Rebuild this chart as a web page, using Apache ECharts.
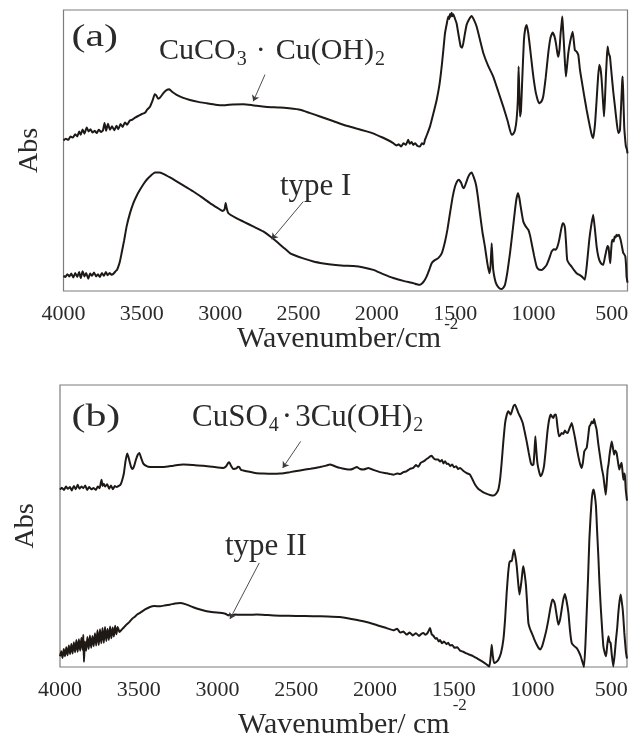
<!DOCTYPE html>
<html>
<head>
<meta charset="utf-8">
<script src="https://cdn.jsdelivr.net/npm/echarts@6/dist/echarts.min.js"></script>
<style>
  html, body { margin: 0; padding: 0; background: #fff; }
  #chart { width: 641px; height: 740px; }
</style>
</head>
<body>
<div id="chart"></div>
<script>
// wavenumber tick labels (cm-1), axis runs 4000 -> 400
const tickValues = [4000, 3500, 3000, 2500, 2000, 1500, 1000, 500];

// panel (a): [wavenumber, abs]
const cuco3 = [[4000,53.6],[3985,54.2],[3970,53.8],[3955,55.0],[3940,54.6],[3925,55.8],[3912,55.0],[3900,56.8],[3890,55.6],[3878,57.5],[3866,56.0],[3852,58.2],[3840,56.8],[3828,57.6],[3815,56.4],[3800,57.0],[3788,56.2],[3775,57.4],[3760,56.6],[3748,57.2],[3738,59.8],[3728,57.0],[3716,59.5],[3704,57.4],[3690,58.6],[3676,57.2],[3662,58.8],[3650,57.6],[3636,59.4],[3622,58.4],[3608,60.0],[3594,59.2],[3578,60.6],[3560,61.0],[3540,61.8],[3520,62.4],[3500,63.0],[3480,63.4],[3465,64.6],[3448,65.6],[3430,68.0],[3418,70.0],[3408,69.6],[3396,68.4],[3384,68.8],[3360,70.6],[3340,71.6],[3325,71.8],[3305,70.8],[3278,69.8],[3240,68.8],[3193,68.0],[3140,67.3],[3086,66.8],[3030,66.3],[2980,66.1],[2920,66.4],[2852,66.5],[2800,66.2],[2767,65.9],[2700,65.5],[2618,65.3],[2560,65.0],[2490,64.5],[2430,63.4],[2363,62.1],[2280,60.5],[2193,58.8],[2130,57.8],[2065,56.8],[2020,56.0],[1980,55.0],[1940,54.0],[1895,52.6],[1875,51.8],[1860,52.2],[1845,51.4],[1830,52.6],[1815,52.0],[1800,53.8],[1790,52.4],[1778,53.0],[1767,52.0],[1755,52.6],[1740,51.6],[1725,51.4],[1712,52.6],[1700,52.2],[1693,53.8],[1680,55.6],[1661,58.5],[1640,63.0],[1618,68.0],[1600,73.5],[1586,79.9],[1575,86.0],[1565,91.7],[1554,95.0],[1544,97.7],[1538,96.8],[1533,98.6],[1528,97.6],[1523,99.0],[1517,97.8],[1512,98.5],[1502,97.0],[1491,95.3],[1478,91.0],[1465,87.0],[1456,86.6],[1448,88.2],[1438,91.5],[1427,94.7],[1410,96.8],[1395,97.9],[1380,96.5],[1363,94.1],[1340,89.0],[1320,84.6],[1290,80.2],[1257,76.3],[1225,71.0],[1193,65.6],[1165,60.5],[1140,55.6],[1128,56.0],[1118,57.3],[1108,61.0],[1100,68.0],[1095,79.9],[1090,70.0],[1086,62.1],[1080,64.0],[1072,75.0],[1061,89.4],[1052,93.5],[1044,94.7],[1034,92.0],[1023,87.0],[1012,81.5],[1001,76.3],[985,70.5],[965,66.8],[950,67.4],[938,69.2],[922,76.0],[906,84.6],[892,90.0],[878,92.0],[866,90.6],[857,88.2],[848,84.8],[842,83.4],[834,86.0],[827,91.7],[820,95.5],[816,97.7],[811,93.0],[806,88.2],[799,81.0],[793,76.3],[786,80.0],[778,84.6],[765,89.0],[750,92.3],[742,88.6],[736,85.8],[725,85.2],[714,84.0],[704,79.0],[693,75.1],[678,70.0],[661,64.5],[640,58.5],[628,55.5],[619,54.4],[608,59.0],[597,68.0],[588,76.0],[580,80.5],[572,79.0],[565,75.1],[557,68.0],[550,62.1],[544,68.0],[538,76.3],[532,83.0],[527,87.0],[520,84.6],[512,83.4],[507,80.5],[502,77.5],[491,71.0],[480,65.6],[470,60.5],[459,56.2],[453,56.6],[448,57.3],[440,67.0],[434,74.5],[431,76.3],[427,70.0],[421,58.5],[415,54.0],[410,51.4],[404,50.4],[400,49.0]];

const typeI = [[4000,5.4],[3988,5.0],[3975,6.0],[3962,5.2],[3950,6.2],[3938,4.8],[3925,6.4],[3912,5.0],[3900,6.8],[3890,4.6],[3878,7.0],[3866,5.2],[3855,6.4],[3842,4.4],[3830,6.2],[3818,5.4],[3805,6.6],[3792,5.2],[3780,6.0],[3768,5.0],[3755,6.4],[3742,5.4],[3730,6.8],[3718,5.6],[3706,6.4],[3694,5.8],[3682,6.1],[3668,7.0],[3658,7.6],[3650,8.7],[3640,10.5],[3629,13.5],[3613,18.0],[3597,23.0],[3575,27.8],[3554,31.3],[3532,34.0],[3512,36.0],[3490,38.0],[3469,39.6],[3440,41.2],[3416,42.2],[3390,42.2],[3363,41.7],[3320,40.4],[3278,39.0],[3225,37.2],[3171,35.4],[3118,33.4],[3065,31.3],[3020,29.7],[2985,28.5],[2972,29.0],[2965,31.3],[2958,29.4],[2948,27.7],[2900,26.0],[2852,24.7],[2790,23.0],[2725,21.2],[2680,19.4],[2640,17.6],[2595,15.4],[2555,13.5],[2533,12.9],[2470,11.6],[2405,10.5],[2340,9.8],[2278,9.3],[2210,9.0],[2150,8.9],[2085,8.4],[2022,7.5],[1960,6.0],[1895,4.6],[1830,3.6],[1767,2.8],[1745,2.4],[1725,2.2],[1700,3.4],[1682,5.2],[1665,7.6],[1650,9.9],[1630,11.0],[1608,11.7],[1585,13.5],[1565,17.5],[1549,22.0],[1533,27.7],[1516,33.5],[1501,37.2],[1488,39.0],[1476,39.6],[1462,38.5],[1452,37.0],[1444,36.6],[1430,38.6],[1416,40.7],[1405,41.8],[1395,42.2],[1382,40.6],[1367,37.8],[1355,33.5],[1342,27.7],[1326,21.0],[1310,15.8],[1295,10.0],[1282,6.3],[1274,9.0],[1267,17.0],[1262,12.0],[1257,7.5],[1246,4.0],[1235,2.2],[1218,1.0],[1203,0.7],[1192,1.2],[1182,2.2],[1166,7.0],[1150,13.5],[1134,21.0],[1118,28.9],[1108,33.0],[1099,34.8],[1090,33.0],[1082,30.1],[1073,27.0],[1065,24.7],[1050,23.0],[1033,21.8],[1022,19.8],[1012,17.0],[996,12.5],[980,8.7],[965,7.6],[948,7.5],[932,8.2],[916,9.3],[900,11.5],[884,14.1],[870,14.9],[857,14.7],[846,16.0],[836,18.2],[825,21.5],[814,24.1],[806,23.8],[799,22.4],[792,17.0],[785,11.1],[771,9.6],[757,8.7],[741,7.4],[725,6.3],[709,5.8],[693,5.2],[682,4.6],[672,4.0],[660,9.0],[644,18.2],[631,23.5],[619,27.1],[608,22.0],[597,15.8],[586,12.2],[576,10.5],[565,9.6],[555,9.3],[545,11.8],[534,14.7],[527,16.0],[521,15.5],[515,12.0],[510,9.9],[505,14.0],[500,17.5],[495,18.2],[488,17.6],[482,19.4],[476,19.0],[470,20.0],[462,19.6],[455,20.0],[444,18.2],[436,16.0],[427,13.5],[420,13.0],[414,12.3],[409,9.0],[406,5.2],[400,3.0]];

// panel (b)
const cuso4 = [[4000,62.9],[3988,63.6],[3975,62.8],[3962,64.0],[3950,63.2],[3937,63.8],[3925,62.6],[3912,64.2],[3900,63.0],[3888,64.6],[3876,63.2],[3864,64.0],[3852,63.4],[3840,64.4],[3828,62.8],[3815,63.8],[3800,63.0],[3788,63.5],[3772,62.8],[3760,64.0],[3748,63.4],[3740,65.6],[3736,66.4],[3730,64.2],[3722,65.0],[3714,64.0],[3700,64.8],[3688,63.2],[3676,64.4],[3664,63.0],[3652,64.2],[3640,63.8],[3628,64.2],[3615,64.7],[3604,66.5],[3594,68.8],[3584,73.0],[3573,75.7],[3564,74.2],[3556,72.4],[3548,70.8],[3539,70.2],[3528,71.5],[3518,73.5],[3507,75.2],[3496,75.9],[3484,74.0],[3471,72.1],[3450,71.2],[3429,70.9],[3390,70.9],[3344,70.9],[3280,71.4],[3217,71.8],[3150,71.6],[3090,71.4],[3030,71.0],[2963,70.6],[2945,71.2],[2932,72.4],[2925,72.6],[2915,71.4],[2900,70.2],[2880,70.4],[2870,71.0],[2862,70.9],[2850,69.9],[2815,69.4],[2760,68.8],[2709,68.6],[2650,68.5],[2603,68.6],[2540,69.1],[2476,69.7],[2410,70.3],[2349,70.9],[2310,71.4],[2286,71.8],[2255,71.2],[2222,70.6],[2190,70.2],[2159,70.0],[2135,70.4],[2116,70.9],[2095,70.2],[2074,70.0],[2042,70.6],[2005,69.8],[1968,69.1],[1925,68.7],[1900,68.4],[1883,68.2],[1860,68.6],[1840,68.4],[1820,69.1],[1800,69.4],[1780,70.2],[1757,70.6],[1740,71.6],[1725,71.0],[1710,72.4],[1693,72.9],[1680,73.4],[1665,74.0],[1652,74.6],[1640,74.9],[1628,74.0],[1615,73.6],[1600,73.6],[1587,72.9],[1575,73.4],[1565,72.2],[1555,73.0],[1545,72.0],[1534,72.1],[1522,71.2],[1510,71.8],[1497,70.8],[1485,71.2],[1472,70.2],[1460,70.6],[1440,69.6],[1420,68.8],[1397,68.2],[1380,66.4],[1365,64.7],[1345,63.2],[1330,62.6],[1312,61.9],[1290,61.4],[1270,61.0],[1248,60.8],[1232,61.4],[1217,62.9],[1206,66.5],[1196,72.4],[1185,80.0],[1174,86.5],[1163,89.5],[1153,90.7],[1145,90.0],[1138,89.5],[1128,91.2],[1120,92.6],[1111,93.0],[1100,91.6],[1090,90.1],[1076,88.5],[1062,86.5],[1050,83.5],[1037,80.0],[1024,76.0],[1011,72.4],[1002,71.5],[994,71.8],[988,76.0],[982,81.8],[976,77.0],[969,72.4],[958,69.2],[948,67.6],[938,68.6],[927,71.2],[916,77.0],[906,83.0],[895,87.5],[884,89.5],[876,88.8],[868,88.3],[860,89.4],[851,89.5],[842,85.5],[832,81.8],[824,82.2],[815,83.0],[805,82.6],[794,83.9],[786,83.2],[777,83.0],[765,84.6],[751,86.5],[740,84.0],[730,81.2],[720,78.0],[709,74.7],[698,72.0],[688,70.6],[680,72.5],[671,76.5],[663,77.2],[656,77.7],[648,81.0],[639,85.3],[631,86.0],[624,87.1],[616,86.4],[609,87.9],[601,86.0],[593,84.2],[582,79.0],[571,74.7],[560,70.5],[550,67.6],[542,64.0],[535,61.1],[529,65.0],[523,70.0],[517,72.0],[512,74.7],[505,77.5],[497,80.0],[490,78.0],[482,75.3],[475,76.8],[466,75.9],[458,73.0],[449,70.0],[441,71.6],[434,72.4],[428,69.0],[423,66.4],[418,68.6],[413,67.6],[408,63.0],[402,59.9],[400,59.0]];

const typeII = [[4000,3.8],[3992,5.6],[3984,3.2],[3976,6.4],[3968,3.8],[3960,7.0],[3952,4.2],[3944,7.6],[3936,4.6],[3928,8.2],[3920,4.8],[3912,8.8],[3904,5.2],[3896,9.6],[3888,5.4],[3880,9.8],[3872,5.8],[3864,10.4],[3856,6.0],[3852,11.4],[3848,1.8],[3842,9.0],[3834,5.8],[3826,10.6],[3818,6.4],[3810,11.2],[3802,6.8],[3794,11.0],[3786,7.4],[3778,12.0],[3770,7.6],[3762,13.0],[3754,7.8],[3746,13.4],[3738,8.4],[3730,13.8],[3722,8.6],[3714,14.2],[3706,9.2],[3698,13.6],[3690,9.6],[3682,14.4],[3674,10.2],[3666,14.0],[3658,10.8],[3650,14.6],[3642,11.6],[3634,14.2],[3622,12.4],[3609,13.2],[3595,14.0],[3582,14.8],[3570,15.4],[3556,16.2],[3540,17.2],[3525,17.8],[3510,18.6],[3492,19.2],[3460,20.4],[3429,21.3],[3400,21.6],[3365,21.5],[3330,21.9],[3302,22.1],[3270,22.5],[3238,22.7],[3200,22.2],[3154,21.2],[3110,20.4],[3069,19.8],[3025,19.4],[2984,19.2],[2950,18.9],[2932,18.3],[2921,18.6],[2908,18.2],[2890,18.6],[2857,18.5],[2800,18.5],[2752,18.6],[2680,18.4],[2603,18.2],[2500,18.1],[2391,18.0],[2300,17.9],[2222,17.7],[2150,17.0],[2074,16.2],[2000,15.1],[1926,13.8],[1880,13.0],[1860,13.6],[1840,12.2],[1820,12.6],[1799,11.5],[1780,12.2],[1760,11.2],[1740,12.0],[1720,11.0],[1705,11.8],[1693,12.1],[1680,11.4],[1665,12.2],[1651,13.8],[1640,11.6],[1628,11.0],[1615,10.0],[1608,10.3],[1595,9.0],[1587,9.6],[1575,8.4],[1562,9.0],[1545,8.1],[1535,8.6],[1524,7.6],[1510,7.8],[1495,6.8],[1478,7.0],[1460,5.8],[1440,5.4],[1420,4.8],[1397,4.3],[1375,3.8],[1350,3.0],[1320,2.0],[1291,0.9],[1274,0.2],[1266,3.5],[1259,7.9],[1252,4.0],[1244,1.4],[1230,1.8],[1217,2.6],[1200,5.0],[1185,9.7],[1174,17.0],[1164,26.3],[1155,33.0],[1147,36.9],[1140,37.6],[1132,37.5],[1124,40.0],[1117,41.6],[1108,39.0],[1100,35.7],[1092,30.5],[1083,25.7],[1076,28.0],[1069,31.0],[1063,34.2],[1058,35.7],[1050,33.0],[1041,28.6],[1033,21.5],[1026,15.6],[1015,13.4],[1005,12.1],[990,10.0],[973,7.9],[962,6.8],[952,6.2],[940,7.2],[927,9.7],[913,12.8],[899,16.8],[886,21.0],[874,23.9],[865,23.4],[857,22.1],[847,18.5],[836,15.0],[825,16.8],[815,20.3],[805,23.8],[794,25.9],[784,23.5],[772,19.2],[762,13.0],[751,8.5],[735,7.4],[719,6.7],[706,5.4],[694,3.8],[683,1.8],[673,0.0],[664,8.0],[656,19.2],[647,32.0],[639,45.2],[631,53.5],[624,59.3],[618,62.0],[612,62.9],[605,61.0],[597,57.0],[590,48.5],[582,39.3],[575,30.0],[567,21.5],[558,13.5],[550,7.3],[541,5.0],[533,3.8],[526,7.5],[518,10.9],[511,9.0],[504,8.5],[496,4.0],[487,0.2],[478,4.5],[470,9.7],[462,14.0],[455,19.2],[447,23.5],[440,25.7],[433,23.0],[427,20.3],[422,16.5],[417,12.1],[411,8.0],[406,5.0],[400,3.0]];

// annotation arrows: [start, tip] in [wavenumber, abs]
const arrowCuco3 = [[2714, 77.0], [2789, 67.5]];
const arrowTypeI = [[2470, 31.8], [2671, 18.4]];
const arrowCuso4 = [[2472, 80.0], [2586, 70.6]];
const arrowTypeII = [[2735, 36.9], [2921, 17.0]];

const SERIF = '"Liberation Serif", "Times New Roman", serif';
const INK = '#1f1916';
const TXT = '#2a2a2a';

const chart = echarts.init(document.getElementById('chart'), null, { renderer: 'canvas' });

function xAxisFor(gridIndex) {
  return {
    gridIndex: gridIndex,
    type: 'value',
    min: 400,
    max: 4000,
    inverse: true,
    axisLine: { show: false },
    axisTick: { show: false },
    splitLine: { show: false },
    axisLabel: {
      customValues: tickValues,
      formatter: (v) => String(v),
      fontFamily: SERIF,
      fontSize: 22,
      color: TXT,
      margin: 12
    }
  };
}

function yAxisFor(gridIndex) {
  return {
    gridIndex: gridIndex,
    type: 'value',
    min: 0,
    max: 100,
    axisLine: { show: false },
    axisTick: { show: false },
    axisLabel: { show: false },
    splitLine: { show: false },
    name: 'Abs',
    nameLocation: 'middle',
    nameGap: 20,
    nameMoveOverlap: false,
    nameTextStyle: { fontFamily: SERIF, fontSize: 28, color: TXT }
  };
}

function arrowLine(pts) {
  return {
    silent: true,
    symbol: ['none', 'arrow'],
    symbolSize: 6,
    label: { show: false },
    lineStyle: { color: '#3a3a3a', width: 0.9, type: 'solid' },
    emphasis: { disabled: true },
    data: [[{ coord: pts[0] }, { coord: pts[1] }]]
  };
}

function spectrum(data, axisIndex, arrow) {
  return {
    type: 'line',
    data: data,
    xAxisIndex: axisIndex,
    yAxisIndex: axisIndex,
    symbol: 'none',
    smooth: 0.15,
    lineStyle: { color: INK, width: 2 },
    emphasis: { disabled: true },
    markLine: arrowLine(arrow)
  };
}

function label(x, y, text, rich, extra) {
  return Object.assign({
    type: 'text',
    x: x,
    y: y,
    silent: true,
    style: {
      text: text,
      fill: TXT,
      fontFamily: SERIF,
      fontSize: 30,
      align: 'left',
      verticalAlign: 'top',
      rich: rich
    }
  }, extra || {});
}

// main text top-aligned, subscript bottom-aligned in a line of height lh
const formulaRich = (size, lh, gapL, gapR) => ({
  m: { fontFamily: SERIF, fontSize: size, fill: TXT, lineHeight: lh, verticalAlign: 'top' },
  s: { fontFamily: SERIF, fontSize: 20, fill: TXT, lineHeight: 20, verticalAlign: 'bottom', padding: [0, 0, 0, 1] },
  d: { fontFamily: SERIF, fontSize: size, fill: TXT, lineHeight: lh, verticalAlign: 'top', padding: [0, gapR, 0, gapL] }
});

// main text bottom-aligned, superscript top-aligned
const titleRich = (lh) => ({
  m: { fontFamily: SERIF, fontSize: 30, fill: TXT, lineHeight: lh, verticalAlign: 'bottom' },
  p: { fontFamily: SERIF, fontSize: 17, fill: TXT, lineHeight: 17, verticalAlign: 'top', padding: [0, 0, 0, 3] }
});

const plainRich = (size) => ({
  m: { fontFamily: SERIF, fontSize: size, fill: TXT, lineHeight: size }
});

chart.setOption({
  animation: false,
  backgroundColor: '#fff',
  grid: [
    { left: 63.5, top: 10, width: 564, height: 281, show: true, borderColor: '#7d7d7d', borderWidth: 1.2, outerBoundsMode: 'none', containLabel: false },
    { left: 60, top: 385, width: 567, height: 282, show: true, borderColor: '#7d7d7d', borderWidth: 1.2, outerBoundsMode: 'none', containLabel: false }
  ],
  xAxis: [xAxisFor(0), xAxisFor(1)],
  yAxis: [yAxisFor(0), yAxisFor(1)],
  series: [
    spectrum(cuco3, 0, arrowCuco3),
    spectrum(typeI, 0, arrowTypeI),
    spectrum(cuso4, 1, arrowCuso4),
    spectrum(typeII, 1, arrowTypeII)
  ],
  graphic: [
    label(71.5, 22, '{m|(a)}', plainRich(31), { scaleX: 1.35 }),
    label(159, 36, '{m|CuCO}{s|3}{d|·}{m|Cu(OH)}{s|2}', formulaRich(30, 33.5, 9, 10)),
    label(280, 171, '{m|type I}', plainRich(31)),
    label(237, 316, '{m|Wavenumber/cm}{p|-2}', titleRich(38.5)),
    label(71.5, 402, '{m|(b)}', plainRich(31), { scaleX: 1.35 }),
    label(192, 402.5, '{m|CuSO}{s|4}{d|·}{m|3Cu(OH)}{s|2}', formulaRich(31, 33.5, 3, 3)),
    label(225, 531, '{m|type II}', plainRich(31)),
    label(238, 697, '{m|Wavenumber/ cm}{p|-2}', titleRich(43))
  ]
});
</script>
</body>
</html>
